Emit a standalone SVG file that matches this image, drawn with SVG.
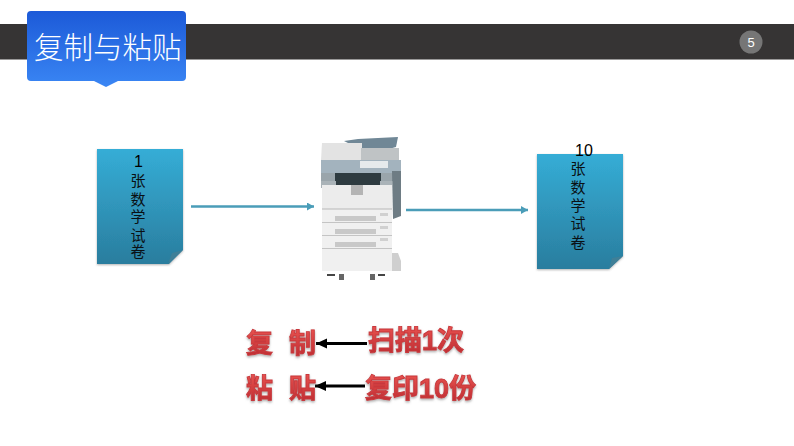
<svg xmlns="http://www.w3.org/2000/svg" width="794" height="446" viewBox="0 0 794 446">
<style>
.cjk{font-family:"Noto Sans CJK SC","Liberation Sans",sans-serif}
.doc{font-family:"Liberation Sans","Noto Sans CJK SC",sans-serif;font-size:15px;fill:#0a1014;text-anchor:middle}
.num{font-size:16px;fill:#000}
.red{font-family:"Liberation Sans","Noto Sans CJK SC",sans-serif;font-size:27px;font-weight:700;fill:url(#redg);stroke:#c8383c;stroke-width:.9;filter:url(#redshadow)}
.conn{fill:none;stroke:#4a9db8;stroke-width:2.6}
.blk{fill:none;stroke:#000;stroke-width:3}
</style>
<defs>
<linearGradient id="blue" x1="0" y1="0" x2="0" y2="1"><stop offset="0" stop-color="#1c5ad8"/><stop offset="1" stop-color="#3a86f4"/></linearGradient>
<linearGradient id="teal" x1="0" y1="0" x2="0" y2="1"><stop offset="0" stop-color="#35add6"/><stop offset="1" stop-color="#2a7d9e"/></linearGradient>
<linearGradient id="redg" x1="0" y1="0" x2="0" y2="1"><stop offset="0" stop-color="#e8524f"/><stop offset="1" stop-color="#bb2a30"/></linearGradient>
<filter id="redshadow" x="-10%" y="-10%" width="120%" height="130%"><feDropShadow dx="0" dy="1.5" stdDeviation="1" flood-color="#777" flood-opacity=".6"/></filter>
<filter id="soft" x="-10%" y="-10%" width="120%" height="120%"><feDropShadow dx="0" dy="1" stdDeviation="1" flood-color="#555" flood-opacity=".45"/></filter>
<filter id="blur"><feGaussianBlur stdDeviation=".7"/></filter>
<marker id="tealArrow" markerUnits="userSpaceOnUse" markerWidth="9" markerHeight="9" refX="7" refY="4" orient="auto"><path d="M0 0L7 4L0 8Z" fill="#4a9db8"/></marker>
<marker id="blkArrow" markerUnits="userSpaceOnUse" markerWidth="12" markerHeight="12" refX="11" refY="5" orient="auto"><path d="M0 0L11 5L0 10Z" fill="#000"/></marker>
</defs>
<rect width="794" height="446" fill="#fff"/>
<g id="header-bar">
<rect x="0" y="24" width="794" height="35.500" fill="#363434"/>
</g>
<g id="page-number">
<circle cx="751" cy="42" r="11.500" fill="#767676"/>
<text x="751" y="47" font-family="Liberation Sans,sans-serif" font-size="13" fill="#fff" text-anchor="middle">5</text>
</g>
<g id="title">
<path d="M31 11H182Q186 11 186 15V77Q186 81 182 81H118L106 87L94 81H31Q27 81 27 77V15Q27 11 31 11Z" fill="url(#blue)"/>
<text x="34" y="58" class="cjk" font-size="29.500" font-weight="300" fill="#fff">复制与粘贴</text>
</g>
<g id="doc-1">
<path d="M97 149H183V250L169 264H97Z" fill="url(#teal)" filter="url(#soft)"/>
<path d="M168 264L172 253L183 250Z" fill="#3f7f97"/>
<text class="doc num" x="138.500" y="166.500">1</text>
<text class="doc" x="138" y="185.500">张</text>
<text class="doc" x="138" y="204.500">数</text>
<text class="doc" x="138" y="222">学</text>
<text class="doc" x="138" y="240.500">试</text>
<text class="doc" x="138" y="257">卷</text>
</g>
<g id="copier" filter="url(#blur)">
<path d="M344 141L358 139L398 137L396 147L378 152L362 150Z" fill="#6f8796"/>
<path d="M322 143H362V160H321Z" fill="#e3e3e3"/>
<rect x="361" y="148" width="38" height="12" fill="#bfc3c5"/>
<rect x="321" y="160" width="80" height="13" fill="#a3b3be"/>
<rect x="360" y="161" width="28" height="7" fill="#e6eaec"/>
<rect x="321" y="173" width="72" height="8" fill="#9aa5ab"/>
<rect x="335" y="173" width="46" height="12" fill="#2f3a3f"/>
<rect x="321" y="181" width="15" height="7" fill="#aab3b8"/><rect x="380" y="181" width="12" height="7" fill="#aab3b8"/>
<rect x="322" y="185" width="70" height="24" fill="#ececec"/>
<rect x="351" y="185" width="12" height="10" fill="#b4b4b4"/>
<path d="M392 171H401V216L393 219Z" fill="#6e7c84"/>
<rect x="322" y="209" width="70" height="62" fill="#f0f0f0"/>
<rect x="322" y="208.500" width="70" height="1" fill="#b8b8b8"/><rect x="322" y="222" width="70" height="1" fill="#c4c4c4"/><rect x="322" y="235" width="70" height="1" fill="#c4c4c4"/><rect x="322" y="248" width="70" height="1" fill="#c4c4c4"/>
<rect x="335" y="216" width="41" height="5" fill="#c8c8c8"/><rect x="335" y="229" width="41" height="5" fill="#c8c8c8"/><rect x="335" y="242" width="41" height="5" fill="#c8c8c8"/>
<rect x="380" y="213" width="8" height="3" fill="#d0d0d0"/><rect x="380" y="226" width="8" height="3" fill="#d0d0d0"/><rect x="380" y="238" width="8" height="3" fill="#d0d0d0"/>
<path d="M392 253H398L401 261V271H392Z" fill="#cfcfcf"/>
<rect x="327" y="274" width="8" height="2" fill="#444"/><rect x="339" y="274" width="5" height="6" fill="#666"/><rect x="370" y="274" width="5" height="6" fill="#666"/><rect x="378" y="274" width="7" height="2" fill="#444"/>
</g>
<g id="doc-10">
<path d="M537 154H623V256L609 269H537Z" fill="url(#teal)" filter="url(#soft)"/>
<path d="M609 269L612 258L623 256Z" fill="#3f7f97"/>
<text class="doc num" x="584" y="156">10</text>
<text class="doc" x="578" y="173.500">张</text>
<text class="doc" x="578" y="192.500">数</text>
<text class="doc" x="578" y="210.500">学</text>
<text class="doc" x="578" y="228.500">试</text>
<text class="doc" x="578" y="247.500">卷</text>
</g>
<g id="connectors">
<path class="conn" d="M191 206.500H314" marker-end="url(#tealArrow)"/>
<path class="conn" d="M406 210H528" marker-end="url(#tealArrow)"/>
<path class="blk" d="M367 343.500H316" marker-end="url(#blkArrow)"/>
<path class="blk" d="M365 386H315" marker-end="url(#blkArrow)"/>
</g>
<g id="label-copy">
<text class="red" x="246" y="353">复</text>
<text class="red" x="289" y="353">制</text>
</g>
<g id="label-scan">
<text class="red" x="368" y="350">扫描1次</text>
</g>
<g id="label-paste">
<text class="red" x="246" y="398">粘</text>
<text class="red" x="289" y="398">贴</text>
</g>
<g id="label-print">
<text class="red" x="365" y="398">复印10份</text>
</g>
</svg>
